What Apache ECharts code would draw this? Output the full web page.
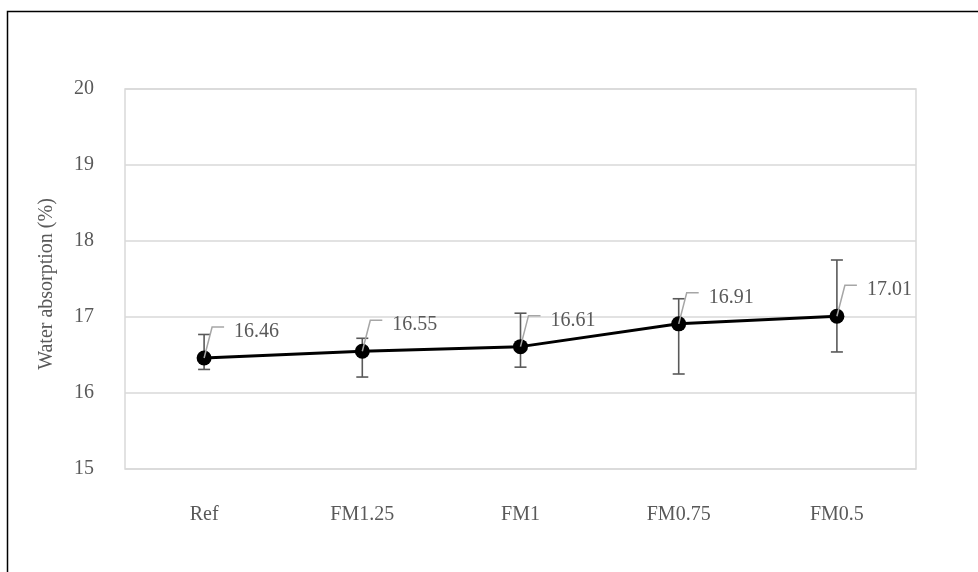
<!DOCTYPE html>
<html>
<head>
<meta charset="utf-8">
<script src="https://cdn.jsdelivr.net/npm/echarts@6/dist/echarts.min.js"></script>
<style>html,body{margin:0;padding:0;background:#fff;}#c{width:978px;height:572px;}</style>
</head>
<body>
<div id="c"></div>
<script>
const categories = ['Ref', 'FM1.25', 'FM1', 'FM0.75', 'FM0.5'];
const values = [16.46, 16.55, 16.61, 16.91, 17.01];
const errHigh = [16.77, 16.72, 17.05, 17.24, 17.75];
const errLow = [16.31, 16.21, 16.34, 16.25, 16.54];
const yMin = 15, yMax = 20, yStep = 1;
const yName = 'Water absorption (%)';

const FONT = '"Liberation Serif", "Times New Roman", serif';
const TXT = '#595959';

const chart = echarts.init(document.getElementById('c'), null, {renderer: 'canvas'});

const errData = categories.map((c, i) => [i, errLow[i], errHigh[i]]);
const lblData = categories.map((c, i) => [i, values[i]]);

chart.setOption({
  animation: false,
  backgroundColor: '#fff',
  graphic: [{
    type: 'rect', left: 5, top: 9, z: 100,
    shape: {width: 1000, height: 700},
    style: {fill: 'none', stroke: '#000', lineWidth: 1.5}
  }],
  grid: {left: 125, right: 62, top: 89, bottom: 103, show: true, borderColor: '#d9d9d9', borderWidth: 1.5},
  xAxis: {
    type: 'category', data: categories, boundaryGap: true,
    axisLine: {show: false}, axisTick: {show: false},
    axisLabel: {color: TXT, fontFamily: FONT, fontSize: 20, margin: 36},
    splitLine: {show: false}
  },
  yAxis: {
    type: 'value', min: yMin, max: yMax, interval: yStep,
    name: yName, nameLocation: 'middle', nameGap: 68,
    nameTextStyle: {color: TXT, fontFamily: FONT, fontSize: 20, padding: [0, 10, 0, 0]},
    axisLine: {show: false}, axisTick: {show: false},
    axisLabel: {color: TXT, fontFamily: FONT, fontSize: 20, margin: 31, padding: [4, 0, 0, 0]},
    splitLine: {lineStyle: {color: '#d9d9d9', width: 1.5}}
  },
  series: [
    {
      type: 'custom', z: 1, data: errData,
      renderItem: function (params, api) {
        const x = api.value(0);
        const lo = api.coord([x, api.value(1)]);
        const hi = api.coord([x, api.value(2)]);
        const w = 6;
        const st = {stroke: '#595959', lineWidth: 1.6};
        return {type: 'group', children: [
          {type: 'line', shape: {x1: lo[0], y1: lo[1], x2: hi[0], y2: hi[1]}, style: st},
          {type: 'line', shape: {x1: lo[0] - w, y1: lo[1], x2: lo[0] + w, y2: lo[1]}, style: st},
          {type: 'line', shape: {x1: hi[0] - w, y1: hi[1], x2: hi[0] + w, y2: hi[1]}, style: st}
        ]};
      }
    },
    {
      type: 'line', z: 2, data: values,
      symbol: 'circle', symbolSize: 15,
      itemStyle: {color: '#000'},
      lineStyle: {color: '#000', width: 3}
    },
    {
      type: 'custom', z: 3, data: lblData,
      renderItem: function (params, api) {
        const p = api.coord([api.value(0), api.value(1)]);
        return {type: 'group', children: [
          {type: 'polyline', shape: {points: [[p[0], p[1]], [p[0] + 8, p[1] - 31], [p[0] + 20, p[1] - 31]]},
           style: {stroke: '#a6a6a6', lineWidth: 1.5, fill: 'none'}},
          {type: 'text', style: {x: p[0] + 30, y: p[1] - 26, text: api.value(1).toFixed(2),
            fill: TXT, font: '20px ' + FONT, verticalAlign: 'middle', textVerticalAlign: 'middle', align: 'left'}}
        ]};
      }
    }
  ]
});
</script>
</body>
</html>
